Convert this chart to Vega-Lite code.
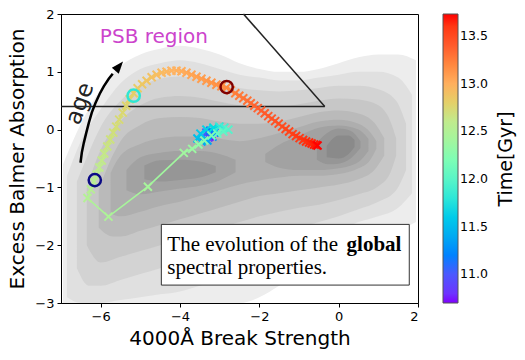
{
"$schema": "https://vega.github.io/schema/vega-lite/v6.json",
"width": 357, "height": 289,
"autosize": {"type": "none"},
"padding": {"left": 61, "top": 14, "right": 107, "bottom": 57},
"background": "white",
"config": {
  "font": "DejaVu Sans",
  "view": {"stroke": "#000", "strokeWidth": 1},
  "axis": {"grid": false, "domainColor": "#000", "tickColor": "#000", "labelColor": "#000", "titleColor": "#000", "labelFontSize": 13, "titleFontSize": 20, "titleFontWeight": "normal", "tickSize": 4, "labelPadding": 3},
  "legend": {"gradientLength": 289, "gradientThickness": 15, "titleOrient": "right", "titleAnchor": "middle", "offset": 25, "padding": 0, "labelFontSize": 12.5, "titleFontSize": 19, "titleFontWeight": "normal", "labelColor": "#000", "titleColor": "#000", "gradientStrokeColor": "#555", "gradientStrokeWidth": 1, "labelOffset": 6, "titlePadding": 28}
},
"datasets": {
  "dens": [
    {"lev":1,"g":"L1","x":-6.95,"y":-3.0,"y2":-0.6},{"lev":1,"g":"L1","x":-6.5,"y":-3.0,"y2":0.1},{"lev":1,"g":"L1","x":-6.0,"y":-3.0,"y2":0.7},{"lev":1,"g":"L1","x":-5.5,"y":-3.0,"y2":1.1},{"lev":1,"g":"L1","x":-5.0,"y":-3.0,"y2":1.3},{"lev":1,"g":"L1","x":-4.5,"y":-3.0,"y2":1.4},{"lev":1,"g":"L1","x":-4.0,"y":-3.0,"y2":1.45},{"lev":1,"g":"L1","x":-3.5,"y":-3.0,"y2":1.4},{"lev":1,"g":"L1","x":-3.0,"y":-3.0,"y2":1.3},{"lev":1,"g":"L1","x":-2.5,"y":-3.0,"y2":1.15},{"lev":1,"g":"L1","x":-2.0,"y":-2.9,"y2":1.05},{"lev":1,"g":"L1","x":-1.5,"y":-2.7,"y2":1.0},{"lev":1,"g":"L1","x":-1.0,"y":-2.5,"y2":1.0},{"lev":1,"g":"L1","x":-0.5,"y":-2.3,"y2":1.05},{"lev":1,"g":"L1","x":0.0,"y":-2.1,"y2":1.15},{"lev":1,"g":"L1","x":0.5,"y":-1.95,"y2":1.25},{"lev":1,"g":"L1","x":1.0,"y":-1.85,"y2":1.3},{"lev":1,"g":"L1","x":1.5,"y":-1.75,"y2":1.3},{"lev":1,"g":"L1","x":1.95,"y":-1.6,"y2":1.2},
    {"lev":2,"g":"L2","x":-6.85,"y":-2.9,"y2":-0.8},{"lev":2,"g":"L2","x":-6.5,"y":-3.0,"y2":-0.2},{"lev":2,"g":"L2","x":-6.0,"y":-3.0,"y2":0.35},{"lev":2,"g":"L2","x":-5.5,"y":-2.95,"y2":0.8},{"lev":2,"g":"L2","x":-5.0,"y":-2.9,"y2":1.05},{"lev":2,"g":"L2","x":-4.5,"y":-2.85,"y2":1.15},{"lev":2,"g":"L2","x":-4.0,"y":-2.8,"y2":1.2},{"lev":2,"g":"L2","x":-3.5,"y":-2.7,"y2":1.15},{"lev":2,"g":"L2","x":-3.0,"y":-2.6,"y2":1.05},{"lev":2,"g":"L2","x":-2.5,"y":-2.5,"y2":0.95},{"lev":2,"g":"L2","x":-2.0,"y":-2.35,"y2":0.9},{"lev":2,"g":"L2","x":-1.5,"y":-2.2,"y2":0.85},{"lev":2,"g":"L2","x":-1.0,"y":-2.05,"y2":0.85},{"lev":2,"g":"L2","x":-0.5,"y":-1.9,"y2":0.9},{"lev":2,"g":"L2","x":0.0,"y":-1.75,"y2":0.95},{"lev":2,"g":"L2","x":0.5,"y":-1.6,"y2":1.0},{"lev":2,"g":"L2","x":1.0,"y":-1.5,"y2":1.0},{"lev":2,"g":"L2","x":1.5,"y":-1.35,"y2":0.9},{"lev":2,"g":"L2","x":1.85,"y":-1.1,"y2":0.6},
    {"lev":3,"g":"L3","x":-6.6,"y":-2.4,"y2":-0.9},{"lev":3,"g":"L3","x":-6.3,"y":-2.7,"y2":-0.4},{"lev":3,"g":"L3","x":-6.0,"y":-2.7,"y2":0.05},{"lev":3,"g":"L3","x":-5.5,"y":-2.6,"y2":0.5},{"lev":3,"g":"L3","x":-5.0,"y":-2.5,"y2":0.75},{"lev":3,"g":"L3","x":-4.5,"y":-2.4,"y2":0.88},{"lev":3,"g":"L3","x":-4.0,"y":-2.3,"y2":0.92},{"lev":3,"g":"L3","x":-3.5,"y":-2.2,"y2":0.88},{"lev":3,"g":"L3","x":-3.0,"y":-2.1,"y2":0.8},{"lev":3,"g":"L3","x":-2.5,"y":-2.0,"y2":0.72},{"lev":3,"g":"L3","x":-2.0,"y":-1.9,"y2":0.68},{"lev":3,"g":"L3","x":-1.5,"y":-1.8,"y2":0.66},{"lev":3,"g":"L3","x":-1.0,"y":-1.7,"y2":0.68},{"lev":3,"g":"L3","x":-0.5,"y":-1.6,"y2":0.72},{"lev":3,"g":"L3","x":0.0,"y":-1.5,"y2":0.76},{"lev":3,"g":"L3","x":0.5,"y":-1.38,"y2":0.76},{"lev":3,"g":"L3","x":1.0,"y":-1.25,"y2":0.7},{"lev":3,"g":"L3","x":1.45,"y":-1.05,"y2":0.5},{"lev":3,"g":"L3","x":1.7,"y":-0.7,"y2":0.1},
    {"lev":4,"g":"L4","x":-6.35,"y":-2.0,"y2":-1.0},{"lev":4,"g":"L4","x":-6.0,"y":-2.3,"y2":-0.35},{"lev":4,"g":"L4","x":-5.5,"y":-2.2,"y2":0.15},{"lev":4,"g":"L4","x":-5.0,"y":-2.1,"y2":0.42},{"lev":4,"g":"L4","x":-4.5,"y":-2.0,"y2":0.55},{"lev":4,"g":"L4","x":-4.0,"y":-1.9,"y2":0.58},{"lev":4,"g":"L4","x":-3.5,"y":-1.8,"y2":0.55},{"lev":4,"g":"L4","x":-3.0,"y":-1.7,"y2":0.48},{"lev":4,"g":"L4","x":-2.5,"y":-1.6,"y2":0.42},{"lev":4,"g":"L4","x":-2.0,"y":-1.5,"y2":0.4},{"lev":4,"g":"L4","x":-1.5,"y":-1.42,"y2":0.4},{"lev":4,"g":"L4","x":-1.0,"y":-1.35,"y2":0.44},{"lev":4,"g":"L4","x":-0.5,"y":-1.3,"y2":0.5},{"lev":4,"g":"L4","x":0.0,"y":-1.22,"y2":0.54},{"lev":4,"g":"L4","x":0.5,"y":-1.12,"y2":0.52},{"lev":4,"g":"L4","x":1.0,"y":-0.98,"y2":0.42},{"lev":4,"g":"L4","x":1.3,"y":-0.75,"y2":0.15},{"lev":4,"g":"L4","x":1.45,"y":-0.45,"y2":-0.15},
    {"lev":5,"g":"L5","x":-6.05,"y":-1.7,"y2":-1.05},{"lev":5,"g":"L5","x":-5.7,"y":-1.85,"y2":-0.45},{"lev":5,"g":"L5","x":-5.5,"y":-1.85,"y2":-0.2},{"lev":5,"g":"L5","x":-5.0,"y":-1.75,"y2":0.08},{"lev":5,"g":"L5","x":-4.5,"y":-1.65,"y2":0.2},{"lev":5,"g":"L5","x":-4.0,"y":-1.55,"y2":0.22},{"lev":5,"g":"L5","x":-3.5,"y":-1.45,"y2":0.2},{"lev":5,"g":"L5","x":-3.0,"y":-1.35,"y2":0.14},{"lev":5,"g":"L5","x":-2.5,"y":-1.25,"y2":0.1},{"lev":5,"g":"L5","x":-2.0,"y":-1.15,"y2":0.1},{"lev":5,"g":"L5","x":-1.5,"y":-1.1,"y2":0.14},{"lev":5,"g":"L5","x":-1.0,"y":-1.05,"y2":0.22},{"lev":5,"g":"L5","x":-0.5,"y":-1.0,"y2":0.3},{"lev":5,"g":"L5","x":0.0,"y":-0.95,"y2":0.33},{"lev":5,"g":"L5","x":0.5,"y":-0.86,"y2":0.28},{"lev":5,"g":"L5","x":0.9,"y":-0.7,"y2":0.12},{"lev":5,"g":"L5","x":1.15,"y":-0.45,"y2":-0.15},
    {"lev":6,"g":"L6","x":-5.75,"y":-1.45,"y2":-0.75},{"lev":6,"g":"L6","x":-5.5,"y":-1.5,"y2":-0.45},{"lev":6,"g":"L6","x":-5.0,"y":-1.42,"y2":-0.25},{"lev":6,"g":"L6","x":-4.5,"y":-1.32,"y2":-0.15},{"lev":6,"g":"L6","x":-4.0,"y":-1.25,"y2":-0.12},{"lev":6,"g":"L6","x":-3.5,"y":-1.15,"y2":-0.12},{"lev":6,"g":"L6","x":-3.0,"y":-1.05,"y2":-0.16},{"lev":6,"g":"L6","x":-2.5,"y":-0.95,"y2":-0.2},{"lev":6,"g":"L6","x":-2.0,"y":-0.88,"y2":-0.15},{"lev":6,"g":"L6","x":-1.5,"y":-0.83,"y2":-0.06},{"lev":6,"g":"L6","x":-1.0,"y":-0.8,"y2":0.04},{"lev":6,"g":"L6","x":-0.5,"y":-0.8,"y2":0.14},{"lev":6,"g":"L6","x":0.0,"y":-0.77,"y2":0.17},{"lev":6,"g":"L6","x":0.5,"y":-0.67,"y2":0.1},{"lev":6,"g":"L6","x":0.8,"y":-0.52,"y2":-0.05},{"lev":6,"g":"L6","x":0.95,"y":-0.33,"y2":-0.2},
    {"lev":7,"g":"L7a","x":-5.35,"y":-1.05,"y2":-0.7},{"lev":7,"g":"L7a","x":-5.0,"y":-1.12,"y2":-0.48},{"lev":7,"g":"L7a","x":-4.5,"y":-1.07,"y2":-0.4},{"lev":7,"g":"L7a","x":-4.0,"y":-1.02,"y2":-0.37},{"lev":7,"g":"L7a","x":-3.5,"y":-0.97,"y2":-0.37},{"lev":7,"g":"L7a","x":-3.0,"y":-0.88,"y2":-0.42},{"lev":7,"g":"L7a","x":-2.6,"y":-0.74,"y2":-0.52},
    {"lev":7,"g":"L7b","x":-1.85,"y":-0.56,"y2":-0.42},{"lev":7,"g":"L7b","x":-1.5,"y":-0.66,"y2":-0.26},{"lev":7,"g":"L7b","x":-1.0,"y":-0.7,"y2":-0.11},{"lev":7,"g":"L7b","x":-0.5,"y":-0.7,"y2":0.03},{"lev":7,"g":"L7b","x":0.0,"y":-0.67,"y2":0.07},{"lev":7,"g":"L7b","x":0.5,"y":-0.56,"y2":0.0},{"lev":7,"g":"L7b","x":0.75,"y":-0.37,"y2":-0.16},
    {"lev":8,"g":"L8a","x":-4.9,"y":-0.86,"y2":-0.62},{"lev":8,"g":"L8a","x":-4.5,"y":-0.9,"y2":-0.53},{"lev":8,"g":"L8a","x":-4.0,"y":-0.87,"y2":-0.52},{"lev":8,"g":"L8a","x":-3.5,"y":-0.83,"y2":-0.55},{"lev":8,"g":"L8a","x":-3.1,"y":-0.74,"y2":-0.63},
    {"lev":8,"g":"L8b","x":-0.55,"y":-0.52,"y2":-0.22},{"lev":8,"g":"L8b","x":-0.25,"y":-0.6,"y2":-0.04},{"lev":8,"g":"L8b","x":0.0,"y":-0.59,"y2":0.02},{"lev":8,"g":"L8b","x":0.3,"y":-0.5,"y2":-0.02},{"lev":8,"g":"L8b","x":0.55,"y":-0.32,"y2":-0.2},
    {"lev":9,"g":"L9","x":-0.3,"y":-0.48,"y2":-0.28},{"lev":9,"g":"L9","x":0.0,"y":-0.5,"y2":-0.1},{"lev":9,"g":"L9","x":0.25,"y":-0.42,"y2":-0.1},{"lev":9,"g":"L9","x":0.4,"y":-0.3,"y2":-0.18}
  ],
  "traj": [
    {"x":-3.259,"y":-0.121,"t":10.70},{"x":-3.209,"y":-0.086,"t":10.77},{"x":-3.284,"y":-0.138,"t":10.85},{"x":-3.359,"y":-0.172,"t":10.92},{"x":-3.410,"y":-0.121,"t":11.00},{"x":-3.334,"y":-0.052,"t":11.07},{"x":-3.234,"y":-0.017,"t":11.14},{"x":-3.133,"y":-0.052,"t":11.22},{"x":-3.183,"y":-0.121,"t":11.29},{"x":-3.309,"y":-0.190,"t":11.37},{"x":-3.460,"y":-0.207,"t":11.44},{"x":-3.560,"y":-0.155,"t":11.51},{"x":-3.485,"y":-0.069,"t":11.59},{"x":-3.334,"y":0.000,"t":11.66},{"x":-3.158,"y":0.034,"t":11.74},{"x":-3.008,"y":0.052,"t":11.81},{"x":-2.882,"y":0.034,"t":11.88},{"x":-2.781,"y":0.000,"t":11.96},{"x":-2.907,"y":-0.034,"t":12.03},{"x":-3.058,"y":-0.069,"t":12.10},{"x":-3.209,"y":-0.103,"t":12.18},{"x":-3.384,"y":-0.190,"t":12.25},{"x":-3.535,"y":-0.259,"t":12.32},{"x":-3.693,"y":-0.333,"t":12.36},{"x":-3.905,"y":-0.402,"t":12.39},{"x":-4.809,"y":-0.988,"t":12.43},{"x":-5.804,"y":-1.505,"t":12.47},
    {"x":-6.332,"y":-1.184,"t":12.51},{"x":-6.249,"y":-1.034,"t":12.53},{"x":-6.173,"y":-0.897,"t":12.55},{"x":-6.098,"y":-0.776,"t":12.57},{"x":-6.035,"y":-0.655,"t":12.59},{"x":-5.972,"y":-0.534,"t":12.61},{"x":-5.910,"y":-0.414,"t":12.63},{"x":-5.834,"y":-0.293,"t":12.65},{"x":-5.759,"y":-0.172,"t":12.67},{"x":-5.683,"y":-0.052,"t":12.69},
    {"x":-5.608,"y":0.052,"t":12.71},{"x":-5.533,"y":0.172,"t":12.73},{"x":-5.445,"y":0.293,"t":12.75},{"x":-5.357,"y":0.414,"t":12.77},{"x":-5.269,"y":0.526,"t":12.79},{"x":-5.168,"y":0.629,"t":12.81},{"x":-5.068,"y":0.716,"t":12.83},{"x":-4.955,"y":0.784,"t":12.85},{"x":-4.842,"y":0.845,"t":12.87},{"x":-4.716,"y":0.905,"t":12.89},
    {"x":-4.590,"y":0.948,"t":12.91},{"x":-4.465,"y":0.983,"t":12.93},{"x":-4.339,"y":1.000,"t":12.95},{"x":-4.214,"y":1.017,"t":12.97},{"x":-4.088,"y":1.021,"t":12.99},{"x":-3.962,"y":1.009,"t":13.01},{"x":-3.837,"y":0.983,"t":13.03},{"x":-3.711,"y":0.948,"t":13.05},{"x":-3.585,"y":0.914,"t":13.07},{"x":-3.460,"y":0.879,"t":13.09},
    {"x":-3.334,"y":0.845,"t":13.11},{"x":-3.209,"y":0.810,"t":13.13},{"x":-3.083,"y":0.776,"t":13.15},{"x":-2.957,"y":0.750,"t":13.17},{"x":-2.832,"y":0.724,"t":13.19},{"x":-2.719,"y":0.681,"t":13.21},{"x":-2.606,"y":0.629,"t":13.23},{"x":-2.505,"y":0.586,"t":13.25},{"x":-2.405,"y":0.543,"t":13.27},{"x":-2.304,"y":0.500,"t":13.29},
    {"x":-2.216,"y":0.457,"t":13.31},{"x":-2.128,"y":0.414,"t":13.33},{"x":-2.040,"y":0.371,"t":13.35},{"x":-1.952,"y":0.328,"t":13.37},{"x":-1.864,"y":0.284,"t":13.39},{"x":-1.776,"y":0.233,"t":13.41},{"x":-1.688,"y":0.190,"t":13.43},{"x":-1.601,"y":0.147,"t":13.45},{"x":-1.513,"y":0.103,"t":13.47},{"x":-1.425,"y":0.052,"t":13.49},
    {"x":-1.337,"y":0.009,"t":13.51},{"x":-1.249,"y":-0.034,"t":13.53},{"x":-1.161,"y":-0.078,"t":13.55},{"x":-1.073,"y":-0.112,"t":13.57},{"x":-0.985,"y":-0.147,"t":13.59},{"x":-0.897,"y":-0.181,"t":13.61},{"x":-0.822,"y":-0.207,"t":13.63},{"x":-0.746,"y":-0.224,"t":13.65},{"x":-0.683,"y":-0.241,"t":13.67},{"x":-0.621,"y":-0.259,"t":13.69},
    {"x":-0.570,"y":-0.267,"t":13.71},{"x":-0.533,"y":-0.276,"t":13.73}
  ],
  "arrow": [
    {"o":1,"x":-6.508,"y":-0.574},{"o":2,"x":-6.475,"y":-0.397},{"o":3,"x":-6.425,"y":-0.229},{"o":4,"x":-6.362,"y":-0.052},{"o":5,"x":-6.299,"y":0.116},{"o":6,"x":-6.224,"y":0.293},{"o":7,"x":-6.131,"y":0.460},{"o":8,"x":-6.023,"y":0.621},{"o":9,"x":-5.922,"y":0.747},{"o":10,"x":-5.796,"y":0.879},{"o":11,"x":-5.696,"y":0.966}
  ]
},
"encoding": {
  "x": {"field": "x", "type": "quantitative", "scale": {"domain": [-7, 2], "nice": false, "zero": false}, "axis": {"values": [-6, -4, -2, 0, 2], "title": "4000Å Break Strength", "titlePadding": 5}},
  "y": {"field": "y", "type": "quantitative", "scale": {"domain": [-3, 2], "nice": false, "zero": false}, "axis": {"values": [-3, -2, -1, 0, 1, 2], "title": "Excess Balmer Absorption", "titlePadding": 7}}
},
"layer": [
  {
    "data": {"name": "dens"},
    "mark": {"type": "area", "interpolate": "monotone", "clip": true},
    "encoding": {
      "y2": {"field": "y2"},
      "fill": {"field": "lev", "type": "quantitative", "scale": {"domain": [1, 9], "range": ["#ededed", "#8a8a8a"]}, "legend": null},
      "detail": {"field": "g"}
    }
  },
  {
    "data": {"values": [{"x": -7, "y": 0.4, "x2": -0.35, "y2": 0.4}, {"x": -0.35, "y": 0.4, "x2": -2.4, "y2": 2.0}]},
    "mark": {"type": "rule", "color": "#222", "strokeWidth": 1.5},
    "encoding": {"x2": {"field": "x2"}, "y2": {"field": "y2"}}
  },
  {
    "data": {"values": [{"x": -6.02, "y": 1.6, "label": "PSB region"}]},
    "mark": {"type": "text", "align": "left", "baseline": "middle", "fontSize": 20, "color": "#cc44cc"},
    "encoding": {"text": {"field": "label"}}
  },
  {
    "data": {"name": "arrow"},
    "mark": {"type": "line", "color": "#000", "strokeWidth": 2.5},
    "encoding": {"order": {"field": "o"}}
  },
  {
    "data": {"values": [{"x": -5.558, "y": 1.078}]},
    "mark": {"type": "point", "shape": "M0,-1L0.6,0.6L-0.6,0.6Z", "filled": true, "color": "#000", "size": 225, "angle": 40, "opacity": 1},
    "encoding": {}
  },
  {
    "data": {"values": [{"x": -6.52, "y": 0.45, "label": "age"}]},
    "mark": {"type": "text", "align": "center", "baseline": "middle", "fontSize": 23, "angle": 290, "color": "#222"},
    "encoding": {"text": {"field": "label"}}
  },
  {
    "data": {"name": "traj"},
    "transform": [
      {"window": [{"op": "lead", "field": "x", "as": "x2"}, {"op": "lead", "field": "y", "as": "y2"}], "sort": [{"field": "t"}]},
      {"filter": "datum.x2 != null"}
    ],
    "mark": {"type": "rule", "strokeWidth": 1.6},
    "encoding": {
      "x2": {"field": "x2"}, "y2": {"field": "y2"},
      "color": {"field": "t", "type": "quantitative", "title": "Time[Gyr]",
        "scale": {"domain": [10.7, 11.07875, 11.4575, 11.83625, 12.215, 12.59375, 12.9725, 13.35125, 13.73], "range": ["#8000ff", "#4062fa", "#00b4ec", "#40ecd4", "#80ffb4", "#bfec8e", "#ffb462", "#ff6232", "#ff0000"]},
        "legend": {"values": [11, 11.5, 12, 12.5, 13, 13.5], "format": ".1f", "direction": "vertical", "encode": {"title": {"update": {"angle": {"value": 270}}}}}}
    }
  },
  {
    "data": {"name": "traj"},
    "mark": {"type": "point", "shape": "M-1,-1L1,1M-1,1L1,-1", "filled": false, "strokeWidth": 2, "size": 64, "opacity": 1},
    "encoding": {
      "color": {"field": "t", "type": "quantitative", "title": "Time[Gyr]",
        "scale": {"domain": [10.7, 11.07875, 11.4575, 11.83625, 12.215, 12.59375, 12.9725, 13.35125, 13.73], "range": ["#8000ff", "#4062fa", "#00b4ec", "#40ecd4", "#80ffb4", "#bfec8e", "#ffb462", "#ff6232", "#ff0000"]},
        "legend": {"values": [11, 11.5, 12, 12.5, 13, 13.5], "format": ".1f", "direction": "vertical", "encode": {"title": {"update": {"angle": {"value": 270}}}}}}
    }
  },
  {
    "data": {"values": [{"x": -6.148, "y": -0.874, "k": "a"}, {"x": -5.168, "y": 0.586, "k": "b"}, {"x": -2.824, "y": 0.736, "k": "c"}]},
    "mark": {"type": "point", "shape": "circle", "filled": false, "strokeWidth": 2.5, "size": 150, "opacity": 1},
    "encoding": {"stroke": {"field": "k", "type": "nominal", "scale": {"domain": ["a", "b", "c"], "range": ["#0b0b85", "#2fe6d3", "#800000"]}, "legend": null}}
  },
  {
    "data": {"values": [{"x": -4.47, "y": -1.64, "x2": 1.78, "y2": -2.69}]},
    "mark": {"type": "rect", "fill": "#fff", "stroke": "#333", "strokeWidth": 1},
    "encoding": {"x2": {"field": "x2"}, "y2": {"field": "y2"}}
  },
  {
    "data": {"values": [{"x": -4.32, "y": -2.098, "label": "The evolution of the"}, {"x": -4.32, "y": -2.5, "label": "spectral properties."}]},
    "mark": {"type": "text", "align": "left", "baseline": "alphabetic", "font": "Liberation Serif", "fontSize": 21, "color": "#000"},
    "encoding": {"text": {"field": "label"}}
  },
  {
    "data": {"values": [{"x": 0.2, "y": -2.098, "label": "global"}]},
    "mark": {"type": "text", "align": "left", "baseline": "alphabetic", "font": "Liberation Serif", "fontSize": 21, "fontWeight": "bold", "color": "#000"},
    "encoding": {"text": {"field": "label"}}
  }
]
}
